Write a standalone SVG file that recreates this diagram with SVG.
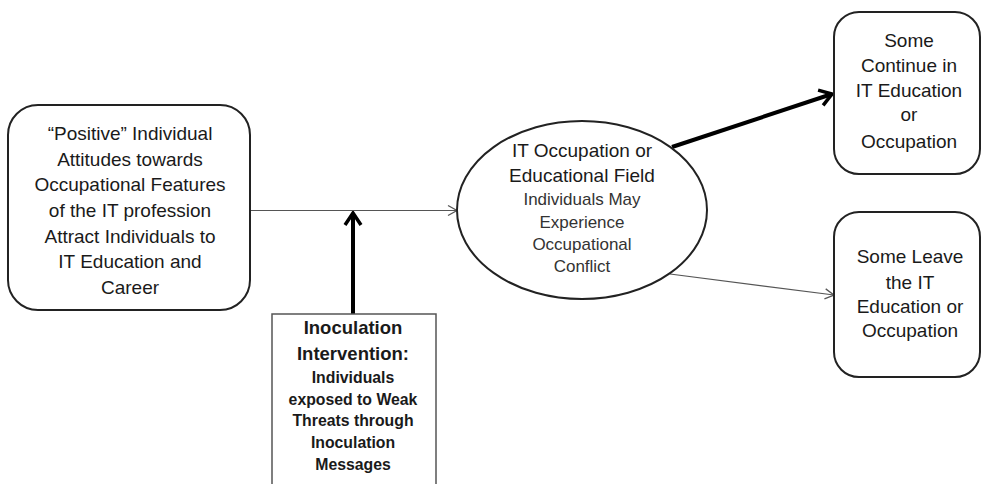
<svg xmlns="http://www.w3.org/2000/svg" width="981" height="484" viewBox="0 0 981 484">
<defs>
<style>
.box{fill:#fff;stroke:#222;stroke-width:2}
.sq{fill:#fff;stroke:#555;stroke-width:1.5}
.t{font-family:"Liberation Sans",Arial,sans-serif;fill:#1a1a1a;text-anchor:middle}
.r{font-size:19px}
.s{font-size:17px;fill:#333}
.b1{font-size:18.5px;font-weight:bold}
.b2{font-size:15.8px;font-weight:bold}
.thin{stroke:#555;stroke-width:1.2;fill:none}
.thick{stroke:#000;stroke-width:4;fill:none}
</style>
<marker id="ah" markerUnits="userSpaceOnUse" viewBox="-12 -8 14 16" refX="0" refY="0" markerWidth="14" markerHeight="16" orient="auto">
<path d="M-9,-5 L0,0 L-9,5" fill="none" stroke="#555" stroke-width="1.3"/>
</marker>
<marker id="ahb" markerUnits="userSpaceOnUse" viewBox="-16 -12 18 24" refX="0" refY="0" markerWidth="18" markerHeight="24" orient="auto">
<path d="M-12,-8 L0,0 L-12,8" fill="none" stroke="#000" stroke-width="3.5" stroke-linejoin="miter"/>
</marker>
</defs>
<rect width="981" height="484" fill="#fff"/>

<g id="connectors">
<line class="thin" x1="250" y1="210.5" x2="457" y2="210.5" marker-end="url(#ah)"/>
<line class="thick" x1="353" y1="314" x2="353" y2="213" marker-end="url(#ahb)"/>
<line class="thick" x1="672" y1="147" x2="832" y2="94" marker-end="url(#ahb)"/>
<line class="thin" x1="670" y1="274" x2="834" y2="295" marker-end="url(#ah)"/>
</g>

<g id="node-positive">
<rect class="box" x="8" y="105" width="242" height="205" rx="30" ry="30"/>
<text class="t r"><tspan x="130" y="140">“Positive” Individual</tspan><tspan x="130" y="166">Attitudes towards</tspan><tspan x="130" y="191">Occupational Features</tspan><tspan x="130" y="217">of the IT profession</tspan><tspan x="130" y="243">Attract Individuals to</tspan><tspan x="130" y="268">IT Education and</tspan><tspan x="130" y="294">Career</tspan></text>
</g>

<g id="node-inoculation">
<rect class="sq" x="272" y="314" width="164" height="180"/>
<text class="t b1"><tspan x="353" y="334">Inoculation</tspan><tspan x="353" y="360">Intervention:</tspan></text>
<text class="t b2"><tspan x="353" y="383">Individuals</tspan><tspan x="353" y="405">exposed to Weak</tspan><tspan x="353" y="426">Threats through</tspan><tspan x="353" y="448">Inoculation</tspan><tspan x="353" y="470">Messages</tspan></text>
</g>

<g id="node-field">
<ellipse class="box" cx="582" cy="210" rx="125" ry="89"/>
<text class="t r"><tspan x="582" y="157">IT Occupation or</tspan><tspan x="582" y="182">Educational Field</tspan></text>
<text class="t s"><tspan x="582" y="205">Individuals May</tspan><tspan x="582" y="228">Experience</tspan><tspan x="582" y="250">Occupational</tspan><tspan x="582" y="272">Conflict</tspan></text>
</g>

<g id="node-continue">
<rect class="box" x="834" y="12" width="146" height="162" rx="25" ry="25"/>
<text class="t r"><tspan x="909" y="47">Some</tspan><tspan x="909" y="72">Continue in</tspan><tspan x="909" y="97">IT Education</tspan><tspan x="909" y="121">or</tspan><tspan x="909" y="148">Occupation</tspan></text>
</g>

<g id="node-leave">
<rect class="box" x="834" y="212" width="146" height="165" rx="25" ry="25"/>
<text class="t r"><tspan x="910" y="263">Some Leave</tspan><tspan x="910" y="289">the IT</tspan><tspan x="910" y="313">Education or</tspan><tspan x="910" y="337">Occupation</tspan></text>
</g>
</svg>
